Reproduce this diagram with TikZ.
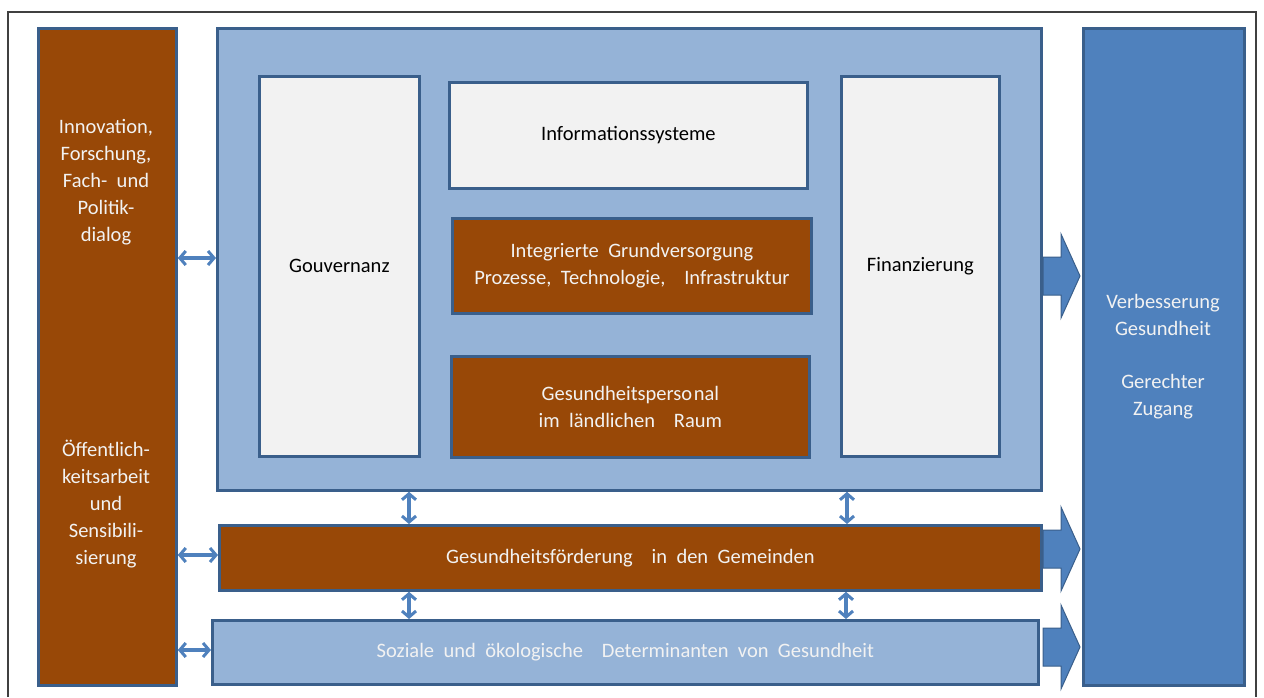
\documentclass[tikz,border=0pt]{standalone}
\usepackage{fontspec}
\setmainfont{Carlito}
\usetikzlibrary{arrows.meta}
\definecolor{brownfill}{HTML}{984807}
\definecolor{lightblue}{HTML}{95B3D7}
\definecolor{midblue}{HTML}{4F81BD}
\definecolor{edgeblue}{HTML}{3A5F8B}
\definecolor{panelgrey}{HTML}{F2F2F2}
\definecolor{framegrey}{HTML}{404040}
% box lettering: Calibri-like face with wide word spaces
\newcommand{\boxlettering}{\fontsize{20.5}{27}\selectfont\setlength{\spaceskip}{0.46em}}
\begin{document}
\begin{tikzpicture}[x=1pt,y=-1pt,
  label font/.style={font=\boxlettering},
  box/.style={draw=edgeblue,line width=2.8pt,inner sep=0pt,anchor=north west,
    align=center,label font},
  brownbox/.style={box,fill=brownfill,text=panelgrey},
  bluebox/.style={box,fill=lightblue,text=panelgrey},
  greybox/.style={box,fill=panelgrey,text=black},
  resultbox/.style={box,fill=midblue,text=panelgrey},
  barb/.tip={Straight Barb[length=6pt,width=14pt,line width=3pt]},
  dbl/.style={draw=midblue,line width=3.4pt,{barb}-{barb}},
  blockarrow/.style={fill=midblue,draw=edgeblue,line width=1pt,line join=miter}]
\useasboundingbox (0,0) rectangle (1264,697);
\fill[white] (0,0) rectangle (1264,697);
% outer frame (open at the bottom)
\draw[framegrey,line width=1.5pt] (8,697) -- (8,12) -- (1256,12) -- (1256,697);

% left column
\node[brownbox,minimum width=138,minimum height=657] (left) at (37,27) {};
\node[text=panelgrey,align=center,label font] (lefttop) at (106,182)
  {Innovation,\\Forschung,\\Fach- und\\Politik-\\dialog};
\node[text=panelgrey,align=center,label font] (leftbot) at (106,504)
  {Öffentlich-\\keitsarbeit\\und\\Sensibili-\\sierung};

% health system block
\node[bluebox,minimum width=824,minimum height=462] (main) at (216,27) {};
\node[greybox,minimum width=160,minimum height=380] (gov) at (258,75) {Gouvernanz};
\node[greybox,minimum width=358,minimum height=106] (info) at (448,81) {Informationssysteme};
\node[brownbox,minimum width=359,minimum height=95] (integ) at (451,217)
  {Integrierte Grundversorgung\\Prozesse, Technologie,\ \ Infrastruktur};
\node[brownbox,minimum width=358,minimum height=101] (staff) at (450,355)
  {Gesundheitsperso\kern1.5pt nal\\im ländlichen\ \ Raum};
\node[greybox,minimum width=158,minimum height=380] (fin) at (840,75) {Finanzierung};

% horizontal bands
\node[brownbox,minimum width=822,minimum height=65] (promo) at (218,524)
  {Gesundheitsförderung\ \ in den Gemeinden};
\node[bluebox,minimum width=826,minimum height=64] (social) at (211,619)
  {Soziale und ökologische\ \ Determinanten von Gesundheit};

% outcome column
\node[resultbox,minimum width=161,minimum height=657] (result) at (1082,27) {};
\node[text=panelgrey,align=center,label font] (resulttxt) at (1163,357)
  {Verbesserung\\Gesundheit\\[26pt]Gerechter\\Zugang};

% two-way links
\draw[dbl] (left.east |- 0,258) -- (main.west |- 0,258);
\draw[dbl] (left.east |- 0,555) -- (promo.west |- 0,555);
\draw[dbl] (left.east |- 0,650) -- (social.west |- 0,650);
\draw[dbl] (main.south -| 409,0) -- (promo.north -| 409,0);
\draw[dbl] (main.south -| 847,0) -- (promo.north -| 847,0);
\draw[dbl] (promo.south -| 409,0) -- (social.north -| 409,0);
\draw[dbl] (promo.south -| 846,0) -- (social.north -| 846,0);

% block arrows towards the outcome column
\foreach \yc in {276,549,647}{
  \draw[blockarrow] (1043,\yc-19) -- (1061,\yc-19) -- (1061,\yc-42) -- (1080,\yc)
    -- (1061,\yc+42) -- (1061,\yc+19) -- (1043,\yc+19) -- cycle;
}
\end{tikzpicture}
\end{document}
